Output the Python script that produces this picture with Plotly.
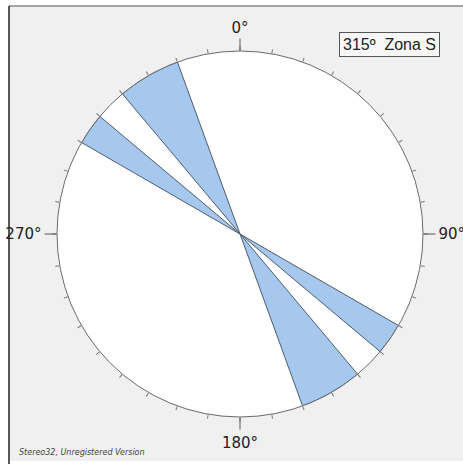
import plotly.graph_objects as go

# Rose diagram bins (azimuth, degrees)
bin_from = [120, 140, 300, 320]
bin_to = [130, 160, 310, 340]
bin_value = [1.0, 1.0, 1.0, 1.0]

minor_ticks = list(range(0, 360, 10))
major_ticks = [0, 90, 180, 270]
major_labels = ["0°", "90°", "180°", "270°"]
legend_text = "315º  Zona S"
footer_text = "Stereo32, Unregistered Version"

W, H = 463, 464
cx, cy, R = 240, 234, 183

centers = [(a + b) / 2 for a, b in zip(bin_from, bin_to)]
widths = [b - a for a, b in zip(bin_from, bin_to)]

fig = go.Figure()
fig.add_trace(go.Barpolar(
    r=bin_value, theta=centers, width=widths,
    marker=dict(color="#a7c8ee", line=dict(color="#4d5b6b", width=1)),
    subplot="polar", hoverinfo="skip", showlegend=False,
))
fig.add_trace(go.Scatterpolar(
    r=[0], theta=[0], mode="markers", marker=dict(opacity=0),
    subplot="polar2", hoverinfo="skip", showlegend=False,
))

dom_x = [(cx - R) / W, (cx + R) / W]
dom_y = [(H - cy - R) / H, (H - cy + R) / H]

fig.update_layout(
    width=W, height=H,
    margin=dict(l=0, r=0, t=0, b=0),
    paper_bgcolor="white",
    polar=dict(
        domain=dict(x=dom_x, y=dom_y),
        bgcolor="white",
        radialaxis=dict(visible=False, range=[0, 1]),
        angularaxis=dict(
            rotation=90, direction="clockwise",
            tickmode="array", tickvals=minor_ticks,
            ticks="outside", ticklen=4, tickcolor="#777777", tickwidth=1,
            showticklabels=False, showgrid=False,
            showline=True, linecolor="#6a6a6a", linewidth=1,
        ),
    ),
    polar2=dict(
        domain=dict(x=dom_x, y=dom_y),
        bgcolor="rgba(0,0,0,0)",
        radialaxis=dict(visible=False, range=[0, 1]),
        angularaxis=dict(
            rotation=90, direction="clockwise",
            tickmode="array", tickvals=major_ticks, ticktext=major_labels,
            ticks="outside", ticklen=12, tickcolor="#555555", tickwidth=1,
            showgrid=False, showline=False,
            tickfont=dict(family="DejaVu Sans", size=15, color="#222222"),
        ),
    ),
    shapes=[
        dict(type="rect", xref="paper", yref="paper", layer="below",
             x0=9 / W, x1=1, y0=(H - 461) / H, y1=(H - 6) / H,
             fillcolor="#f0f0f0", line=dict(width=0)),
        dict(type="line", xref="paper", yref="paper",
             x0=9 / W, x1=1, y0=(H - 6) / H, y1=(H - 6) / H,
             line=dict(color="#8a8a8a", width=1.5)),
        dict(type="line", xref="paper", yref="paper",
             x0=9 / W, x1=9 / W, y0=0, y1=(H - 6) / H,
             line=dict(color="#222222", width=1.5)),
    ],
    annotations=[
        dict(text=legend_text, xref="paper", yref="paper",
             x=389.5 / W, y=(H - 44) / H, showarrow=False,
             font=dict(family="Liberation Sans", size=16, color="#222222"),
             bordercolor="#555555", borderwidth=1, borderpad=3,
             bgcolor="#f7f7f7", xanchor="center", yanchor="middle"),
        dict(text="<i>" + footer_text + "</i>", xref="paper", yref="paper",
             x=17 / W, y=(H - 452) / H, showarrow=False,
             font=dict(family="DejaVu Sans", size=8, color="#444444"),
             xanchor="left", yanchor="middle"),
    ],
)

fig.write_html(
    "out.html",
    config={"displayModeBar": False},
    post_script="document.body.style.margin='0';document.body.style.overflow='hidden';",
)
